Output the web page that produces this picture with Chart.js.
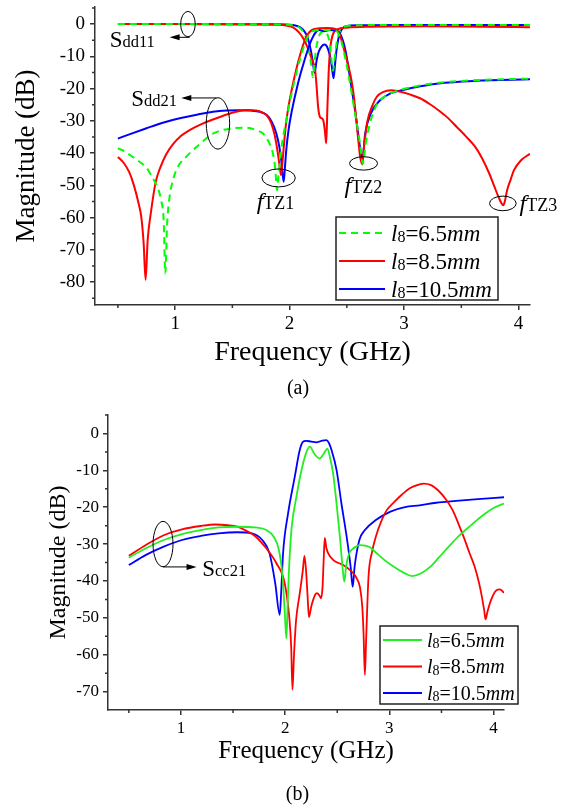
<!DOCTYPE html>
<html>
<head>
<meta charset="utf-8">
<title>Sdd / Scc vs frequency</title>
<script src="https://cdn.jsdelivr.net/npm/chart.js@4.4.1/dist/chart.umd.min.js"></script>
<style>
  body { margin: 0; background: #fff; }
  #chartA { position: absolute; left: 0; top: 0; }
  #chartB { position: absolute; left: 0; top: 400px; }
</style>
</head>
<body>
<canvas id="chartA" width="574" height="400"></canvas>
<canvas id="chartB" width="574" height="406"></canvas>
<script>
// ================================
// AXES
// ================================

let freqMajor = [1, 2, 3, 4];
let freqMinor = [0.5, 1.5, 2.5, 3.5];

let dbMajorA = [-80, -70, -60, -50, -40, -30, -20, -10, 0];
let dbMinorA = [-85, -75, -65, -55, -45, -35, -25, -15, -5, 5];
let dbMajorB = [-70, -60, -50, -40, -30, -20, -10, 0];
let dbMinorB = [-65, -55, -45, -35, -25, -15, -5, 5];

// l8 values of the three layouts, and the line colour of each
let l8Values = ["6.5", "8.5", "10.5"];
let colorsA = ["#00ff00", "#ff0000", "#0000ff"];
let colorsB = ["#22ee22", "#ff0000", "#0000ff"];

// ================================
// (a) DIFFERENTIAL MODE  [GHz, dB]
// ================================

let sdd11_65 = [[0.5,0],[1.0,0],[1.5,-0.02],[1.9,-0.1],[2.0,-0.25],[2.05,-0.55],[2.09,-1.2],[2.12,-2.5],[2.15,-5],[2.17,-8.5],[2.19,-13],[2.202,-16.5],[2.215,-13],[2.23,-8],[2.25,-4.5],[2.27,-2.8],[2.3,-2.2],[2.325,-2.8],[2.345,-5],[2.36,-9],[2.372,-13],[2.38,-14.5],[2.392,-11],[2.41,-6],[2.43,-3],[2.46,-1.3],[2.5,-0.6],[2.6,-0.35],[3.0,-0.25],[4.1,-0.3]];

let sdd11_85 = [[0.5,0],[1.0,0],[1.5,-0.05],[1.9,-0.2],[1.98,-0.5],[2.03,-1],[2.08,-2.5],[2.12,-4.5],[2.16,-7.5],[2.2,-11.5],[2.222,-14],[2.235,-19],[2.25,-26],[2.265,-28.8],[2.28,-29.2],[2.295,-30],[2.308,-33],[2.32,-37],[2.33,-26],[2.34,-16],[2.352,-8.5],[2.365,-5],[2.385,-2.6],[2.42,-1.6],[2.5,-1.1],[2.7,-0.8],[3.2,-0.7],[3.7,-0.8],[4.1,-1.0]];

let sdd11_105 = [[0.5,0],[1.0,0],[1.5,-0.02],[1.9,-0.08],[2.0,-0.2],[2.05,-0.45],[2.09,-0.9],[2.12,-1.8],[2.15,-3.5],[2.175,-6.5],[2.2,-11],[2.218,-15.1],[2.235,-11.5],[2.255,-8.5],[2.28,-6.9],[2.303,-6.3],[2.325,-6.9],[2.35,-9.5],[2.368,-13],[2.384,-16.8],[2.398,-12],[2.41,-8],[2.425,-4.8],[2.44,-2.8],[2.46,-1.4],[2.5,-0.6],[2.6,-0.35],[3.0,-0.25],[3.5,-0.25],[4.1,-0.3]];

let sdd21_65 = [[0.5,-38.5],[0.56,-39.5],[0.63,-41.2],[0.7,-43],[0.75,-44.5],[0.8,-47.5],[0.85,-51],[0.88,-55],[0.9,-61],[0.914,-77.3],[0.93,-62],[0.95,-54],[0.98,-48.5],[1.02,-44.5],[1.1,-41],[1.19,-38],[1.33,-34],[1.48,-32.4],[1.61,-32.1],[1.71,-32.9],[1.77,-34],[1.81,-36],[1.854,-40.1],[1.875,-45],[1.89,-51.5],[1.905,-46],[1.93,-38],[1.97,-30],[2.03,-19.5],[2.09,-11],[2.15,-4.5],[2.2,-2.2],[2.3,-1.8],[2.4,-2],[2.44,-4],[2.5,-13],[2.567,-26.7],[2.615,-37],[2.64,-43.3],[2.665,-37],[2.694,-31.9],[2.74,-26.5],[2.79,-23.6],[2.88,-21.5],[2.98,-20.3],[3.14,-19],[3.3,-18.2],[3.62,-17.4],[4.1,-16.9]];

let sdd21_85 = [[0.5,-41.2],[0.55,-43],[0.6,-46],[0.64,-50],[0.68,-55.5],[0.705,-60],[0.725,-68],[0.742,-79.3],[0.76,-67],[0.79,-58],[0.83,-49],[0.87,-44.5],[0.92,-40.5],[0.98,-37.3],[1.05,-34.7],[1.13,-32.8],[1.23,-31],[1.33,-29.6],[1.48,-27.7],[1.62,-26.6],[1.71,-26.8],[1.76,-27.4],[1.8,-28.3],[1.84,-30.8],[1.87,-34.5],[1.895,-39.5],[1.913,-44],[1.925,-46.8],[1.937,-43],[1.948,-38.5],[1.965,-32],[1.985,-26.7],[2.03,-18.4],[2.087,-10.1],[2.146,-3.9],[2.2,-1.7],[2.26,-1.3],[2.33,-1.2],[2.4,-1.5],[2.44,-3.5],[2.48,-8.5],[2.535,-16.4],[2.56,-22],[2.58,-28.8],[2.6,-36],[2.618,-41.5],[2.635,-43.5],[2.65,-38],[2.68,-30],[2.72,-25.5],[2.76,-22.6],[2.82,-21],[2.885,-20.5],[2.95,-20.8],[3.05,-21.8],[3.14,-23],[3.22,-24.7],[3.3,-26.7],[3.38,-29],[3.46,-31.9],[3.54,-34.8],[3.62,-38],[3.68,-41.5],[3.745,-46.4],[3.79,-50.5],[3.825,-53.6],[3.85,-55.5],[3.866,-56.2],[3.88,-55],[3.9,-51.5],[3.93,-48.3],[3.96,-45.3],[4.02,-42.3],[4.1,-40.2]];

let sdd21_105 = [[0.5,-35.5],[0.6,-34.2],[0.75,-32.3],[0.9,-30.5],[1.04,-29.2],[1.2,-28],[1.33,-27.2],[1.45,-26.8],[1.56,-26.7],[1.66,-26.8],[1.74,-27.2],[1.8,-28.2],[1.84,-30],[1.884,-33.9],[1.91,-38],[1.927,-42.2],[1.948,-48.9],[1.96,-44],[1.971,-39],[1.99,-33],[2.015,-27.7],[2.073,-18.4],[2.13,-11.2],[2.19,-5],[2.233,-2.3],[2.26,-1.8],[2.3,-2.2],[2.35,-1.8],[2.4,-2],[2.44,-2.9],[2.487,-8],[2.535,-18.4],[2.58,-28.8],[2.61,-37],[2.637,-41.7],[2.66,-34],[2.71,-27.7],[2.79,-23.6],[2.88,-21.5],[2.98,-20.5],[3.14,-19.3],[3.3,-18.4],[3.62,-17.6],[4.1,-17.1]];

// ================================
// (b) COMMON MODE  [GHz, dB]
// ================================

let scc21_65 = [[0.5,-33.7],[0.66,-31.2],[0.835,-28.9],[1.01,-27.3],[1.19,-26.2],[1.36,-25.5],[1.54,-25.3],[1.71,-25.5],[1.82,-26.2],[1.89,-28],[1.94,-31.6],[1.975,-38.8],[1.995,-47.9],[2.012,-55.6],[2.022,-48],[2.035,-38],[2.06,-26.2],[2.108,-17.2],[2.157,-9.9],[2.205,-5],[2.237,-3.6],[2.28,-5.5],[2.33,-6.8],[2.37,-5.5],[2.406,-4.1],[2.43,-6.5],[2.46,-10.8],[2.493,-19],[2.525,-28],[2.553,-37],[2.568,-40.2],[2.585,-36],[2.615,-32.5],[2.653,-31.2],[2.72,-30.3],[2.81,-30.8],[2.87,-32.3],[2.96,-34.5],[3.05,-36.3],[3.14,-37.8],[3.22,-38.7],[3.3,-38],[3.4,-36],[3.48,-33.5],[3.57,-30.7],[3.66,-28],[3.75,-25.7],[3.84,-23.5],[3.92,-21.7],[4.0,-20.2],[4.1,-19]];

let scc21_85 = [[0.5,-33.2],[0.66,-30.3],[0.835,-27.6],[1.01,-26],[1.19,-25.1],[1.33,-24.7],[1.45,-24.9],[1.54,-25.3],[1.62,-26.3],[1.71,-27.8],[1.82,-31.2],[1.916,-35.2],[1.996,-40.7],[2.04,-50],[2.058,-58],[2.07,-69.5],[2.085,-60],[2.105,-50.6],[2.14,-43.4],[2.17,-37],[2.185,-33.2],[2.2,-37],[2.215,-44],[2.228,-49.8],[2.25,-47],[2.268,-45.2],[2.29,-43.6],[2.305,-43.3],[2.33,-44],[2.345,-44.7],[2.358,-42],[2.37,-34],[2.38,-28.3],[2.395,-31],[2.413,-32.5],[2.46,-34.3],[2.557,-35.7],[2.62,-37],[2.653,-37.9],[2.69,-39.5],[2.717,-41.6],[2.74,-47],[2.752,-54],[2.765,-65.5],[2.778,-55],[2.8,-38.8],[2.835,-32],[2.87,-28],[2.92,-24],[2.975,-20.8],[3.05,-18.5],[3.116,-16.7],[3.2,-14.8],[3.29,-13.8],[3.33,-13.6],[3.4,-14],[3.467,-15.4],[3.54,-17.8],[3.607,-20.8],[3.66,-24.3],[3.712,-28],[3.77,-32.5],[3.818,-36.1],[3.86,-40.5],[3.888,-44.3],[3.91,-48],[3.923,-50.4],[3.94,-48.5],[3.975,-45.2],[4.028,-42.5],[4.06,-42.3],[4.1,-43.2]];

let scc21_105 = [[0.5,-35.7],[0.66,-33],[0.835,-30.7],[1.01,-28.9],[1.19,-27.8],[1.36,-27.1],[1.54,-26.8],[1.68,-27.1],[1.78,-28.9],[1.85,-32.5],[1.905,-40.7],[1.948,-49.2],[1.962,-43],[1.98,-32.5],[2.028,-21.7],[2.092,-11.8],[2.14,-4.5],[2.17,-2.3],[2.2,-2.0],[2.25,-2.2],[2.3,-2.4],[2.35,-2.0],[2.395,-1.8],[2.42,-2.6],[2.445,-4.5],[2.493,-9.9],[2.54,-19],[2.59,-28],[2.628,-36.1],[2.648,-41.6],[2.667,-36],[2.712,-28.9],[2.765,-26.2],[2.87,-23.5],[3.01,-21.2],[3.15,-20],[3.29,-19.5],[3.45,-18.8],[3.64,-18.3],[3.85,-17.8],[4.1,-17.3]];

// ================================
// HELPERS
// ================================

let serif = '"Liberation Serif", "Times New Roman", serif';
let axisColor = "#333";

Chart.defaults.font.family = serif;
Chart.defaults.color = "#000";

function toPoints(pairs) {
  return pairs.map(p => ({ x: p[0], y: p[1] }));
}

// draws a run of text pieces with their own size / italic / baseline shift
function drawRich(ctx, x, y, parts) {
  ctx.textAlign = "left";
  ctx.textBaseline = "alphabetic";
  parts.forEach(p => {
    ctx.font = (p.it ? "italic " : "") + p.s + "px " + serif;
    ctx.fillText(p.t, x, y + (p.dy || 0));
    x += ctx.measureText(p.t).width;
  });
}

function l8Label(value, size) {
  return [
    { t: "l", it: true, s: size },
    { t: "8", s: Math.round(size * 0.68), dy: size * 0.08 },
    { t: "=" + value, s: size },
    { t: "mm", it: true, s: size }
  ];
}

function subLabel(head, tail, big, small, italicHead) {
  return [{ t: head, s: big, it: italicHead }, { t: tail, s: small }];
}

// minor ticks, ellipses + arrows, the l8 legend box and the caption
function makeExtras(cfg) {
  return {
    id: "extras",
    afterDraw(chart) {
      let ctx = chart.ctx;
      let xs = chart.scales.x, ys = chart.scales.y;
      let px = v => xs.getPixelForValue(v);
      let py = v => ys.getPixelForValue(v);

      ctx.save();

      // minor ticks point outward like the major ones
      ctx.strokeStyle = axisColor;
      ctx.lineWidth = 1.5;
      ctx.beginPath();
      cfg.minorX.forEach(v => {
        let x = px(v);
        ctx.moveTo(x, xs.top);
        ctx.lineTo(x, xs.top + 3);
      });
      cfg.minorY.forEach(v => {
        let y = py(v);
        ctx.moveTo(ys.right, y);
        ctx.lineTo(ys.right - 3, y);
      });
      ctx.stroke();

      // ellipses around the curve groups
      ctx.strokeStyle = "#000";
      ctx.lineWidth = 1;
      cfg.ellipses.forEach(e => {
        ctx.beginPath();
        ctx.ellipse(px(e.f), py(e.db), e.rx, e.ry, 0, 0, Math.PI * 2);
        ctx.stroke();
      });

      // arrows, head at the "to" end
      ctx.fillStyle = "#000";
      cfg.arrows.forEach(a => {
        let x0 = px(a.from[0]), y0 = py(a.from[1]);
        let x1 = px(a.to[0]), y1 = py(a.to[1]);
        let dir = x1 > x0 ? 1 : -1;
        ctx.beginPath();
        ctx.moveTo(x0, y0);
        ctx.lineTo(x1 - dir * 6, y1);
        ctx.stroke();
        ctx.beginPath();
        ctx.moveTo(x1, y1);
        ctx.lineTo(x1 - dir * 10, y1 - 3);
        ctx.lineTo(x1 - dir * 10, y1 + 3);
        ctx.closePath();
        ctx.fill();
      });

      cfg.notes.forEach(n => drawRich(ctx, px(n.f), py(n.db), n.parts));

      // legend box
      let lg = cfg.legend;
      ctx.fillStyle = "#fff";
      ctx.fillRect(lg.left, lg.top, lg.width, lg.height);
      ctx.strokeStyle = "#222";
      ctx.lineWidth = 1.5;
      ctx.strokeRect(lg.left, lg.top, lg.width, lg.height);

      chart.data.datasets.slice(0, 3).forEach((ds, i) => {
        let y = lg.top + lg.firstRow + i * lg.rowH;
        ctx.strokeStyle = ds.borderColor;
        ctx.lineWidth = ds.borderWidth;
        ctx.setLineDash(ds.borderDash || []);
        ctx.beginPath();
        ctx.moveTo(lg.left + 3, y);
        ctx.lineTo(lg.left + 3 + lg.lineLen, y);
        ctx.stroke();
        ctx.setLineDash([]);
        ctx.fillStyle = "#000";
        drawRich(ctx, lg.left + lg.textX, y + lg.size * 0.33, l8Label(l8Values[i], lg.size));
      });

      // panel caption
      ctx.fillStyle = "#000";
      ctx.font = cfg.caption.size + "px " + serif;
      ctx.textAlign = "center";
      ctx.textBaseline = "middle";
      ctx.fillText(cfg.caption.text, cfg.caption.x, cfg.caption.y);

      ctx.restore();
    }
  };
}

function lineSet(pairs, color, width, dash) {
  return {
    data: toPoints(pairs),
    borderColor: color,
    borderWidth: width,
    borderDash: dash || [],
    pointRadius: 0,
    fill: false,
    cubicInterpolationMode: "monotone"
  };
}

// fixed-size axes with no extra edge padding for the end labels,
// so the plot area lands exactly inside the layout padding
function axes(o) {
  return {
    x: {
      type: "linear",
      min: 0.3,
      max: 4.1,
      afterBuildTicks: s => { s.ticks = freqMajor.map(v => ({ value: v })); },
      afterFit: s => { s.height = o.xHeight; s.paddingLeft = 0; s.paddingRight = 0; },
      ticks: { font: { size: o.tickSize }, padding: o.xPad, color: "#000" },
      grid: { drawOnChartArea: false, drawTicks: true, tickLength: 5, color: axisColor, lineWidth: 1.5 },
      border: { display: true, color: axisColor, width: 1.5 },
      title: { display: true, text: "Frequency (GHz)", font: { size: o.xTitleSize }, color: "#000", padding: { top: 0, bottom: o.xTitlePad } }
    },
    y: {
      type: "linear",
      min: o.yMin,
      max: o.yMax,
      afterBuildTicks: s => { s.ticks = o.yMajor.map(v => ({ value: v })); },
      afterFit: s => { s.width = o.yWidth; s.paddingTop = 0; s.paddingBottom = 0; },
      ticks: { font: { size: o.tickSize }, padding: o.yPad, color: "#000" },
      grid: { drawOnChartArea: false, drawTicks: true, tickLength: 5, color: axisColor, lineWidth: 1.5 },
      border: { display: true, color: axisColor, width: 1.5 },
      title: { display: true, text: "Magnitude (dB)", font: { size: o.yTitleSize }, color: "#000", padding: { top: o.yTitlePad, bottom: 0 } }
    }
  };
}

// ================================
// CHART (a)
// ================================

let extrasA = makeExtras({
  minorX: freqMinor,
  minorY: dbMinorA,
  ellipses: [
    { f: 1.112, db: 0, rx: 7.3, ry: 12.7 },
    { f: 1.374, db: -30.8, rx: 11.7, ry: 25.7 },
    { f: 1.904, db: -47.7, rx: 16.7, ry: 9 },
    { f: 2.646, db: -43.2, rx: 14, ry: 6.7 },
    { f: 3.863, db: -55.6, rx: 13.3, ry: 7.3 }
  ],
  arrows: [
    { from: [1.127, -4.1], to: [0.952, -4.1] },
    { from: [1.36, -22.9], to: [1.054, -22.9] }
  ],
  notes: [
    { f: 0.428, db: -7.1, parts: subLabel("S", "dd11", 23, 16.5) },
    { f: 0.617, db: -25.4, parts: subLabel("S", "dd21", 23, 16.5) },
    { f: 1.712, db: -57.2, parts: subLabel("f", "TZ1", 24, 18, true) },
    { f: 2.48, db: -52.3, parts: subLabel("f", "TZ2", 24, 18, true) },
    { f: 4.008, db: -58, parts: subLabel("f", "TZ3", 24, 18, true) }
  ],
  legend: { left: 336, top: 217, width: 162, height: 83, firstRow: 16, rowH: 28, lineLen: 46, textX: 55, size: 23 },
  caption: { text: "(a)", x: 298, y: 389, size: 20 }
});

let datasetsA = [
  lineSet(sdd21_65, colorsA[0], 2, [7, 5]),
  lineSet(sdd21_85, colorsA[1], 2),
  lineSet(sdd21_105, colorsA[2], 2),
  lineSet(sdd11_65, colorsA[0], 2, [7, 5]),
  lineSet(sdd11_85, colorsA[1], 2),
  lineSet(sdd11_105, colorsA[2], 2)
];

let chartA = new Chart(document.getElementById("chartA").getContext("2d"), {
  type: "line",
  data: { datasets: datasetsA },
  options: {
    responsive: false,
    animation: false,
    layout: { padding: { left: 0, top: 7, right: 44, bottom: 0 } },
    plugins: { legend: { display: false }, tooltip: { enabled: false } },
    scales: axes({
      yMin: -87.1, yMax: 5.3, yMajor: dbMajorA,
      xHeight: 95, yWidth: 95,
      tickSize: 19, xTitleSize: 28, yTitleSize: 27,
      xPad: 3, yPad: 5,
      xTitlePad: 31, yTitlePad: 11
    })
  },
  plugins: [extrasA]
});

// ================================
// CHART (b)
// ================================

let extrasB = makeExtras({
  minorX: freqMinor,
  minorY: dbMinorB,
  ellipses: [
    { f: 0.828, db: -30.0, rx: 10, ry: 22.7 }
  ],
  arrows: [
    { from: [0.828, -36.2], to: [1.15, -36.2] }
  ],
  notes: [
    { f: 1.204, db: -38.7, parts: subLabel("S", "cc21", 23, 16.5) }
  ],
  legend: { left: 380, top: 226, width: 138, height: 78, firstRow: 14, rowH: 26.5, lineLen: 39, textX: 47, size: 20 },
  caption: { text: "(b)", x: 297.5, y: 395, size: 20 }
});

let datasetsB = [
  lineSet(scc21_65, colorsB[0], 1.8),
  lineSet(scc21_85, colorsB[1], 1.8),
  lineSet(scc21_105, colorsB[2], 1.8)
];

let chartB = new Chart(document.getElementById("chartB").getContext("2d"), {
  type: "line",
  data: { datasets: datasetsB },
  options: {
    responsive: false,
    animation: false,
    layout: { padding: { left: 0, top: 15, right: 70, bottom: 0 } },
    plugins: { legend: { display: false }, tooltip: { enabled: false } },
    scales: axes({
      yMin: -75, yMax: 5, yMajor: dbMajorB,
      xHeight: 96, yWidth: 108,
      tickSize: 17, xTitleSize: 25, yTitleSize: 24,
      xPad: 3, yPad: 4,
      xTitlePad: 40, yTitlePad: 44
    })
  },
  plugins: [extrasB]
});
</script>
</body>
</html>
